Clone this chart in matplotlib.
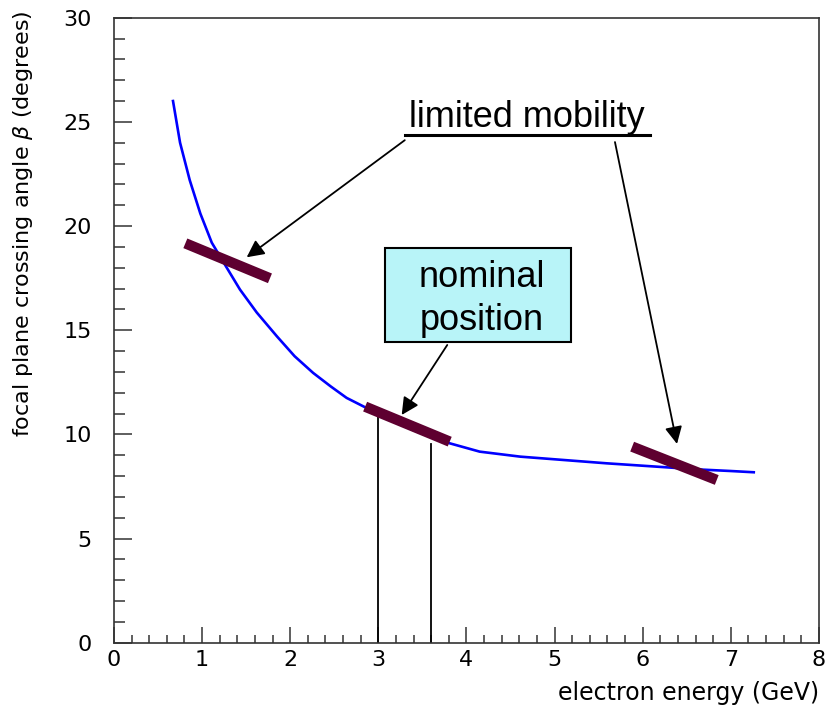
import matplotlib.pyplot as plt
from matplotlib.patches import Rectangle
from matplotlib.ticker import MultipleLocator

# crossing angle curve
energy = [0.67, 0.75, 0.86, 0.98, 1.11, 1.28, 1.43, 1.62, 1.85, 2.05, 2.26, 2.46,
          2.64, 2.85, 3.0, 3.2, 3.4, 3.6, 3.81, 4.15, 4.61, 5.10, 5.59, 6.05,
          6.61, 7.0, 7.26]
angle = [26.0, 24.0, 22.2, 20.6, 19.2, 18.0, 16.95, 15.85, 14.7, 13.75, 12.95, 12.3,
         11.75, 11.3, 11.0, 10.6, 10.2, 9.88, 9.57, 9.17, 8.93, 8.77, 8.61, 8.48,
         8.32, 8.24, 8.18]

# detector positions (start, end) in data units
bars_x = [(0.81, 1.77), (2.85, 3.81), (5.88, 6.84)]
bars_y = [(19.17, 17.49), (11.33, 9.65), (9.41, 7.81)]

# nominal acceptance lines
nominal_x = [3.0, 3.6]
nominal_top = [11.0, 9.55]

plt.rcParams['font.family'] = ['DejaVu Sans']

fig = plt.figure(figsize=(8.27, 7.05), dpi=100)
ax = fig.add_axes([0.1378, 0.0884, 0.8525, 0.8865])

ax.plot(energy, angle, color='#0000ff', lw=1.9, zorder=3)

for (x0, x1), (y0, y1) in zip(bars_x, bars_y):
    ax.plot([x0, x1], [y0, y1], color='#5e0030', lw=7.5, solid_capstyle='butt', zorder=4)

for x, top in zip(nominal_x, nominal_top):
    ax.plot([x, x], [0, top], color='black', lw=1.3, zorder=2)

ax.set_xlim(0, 8)
ax.set_ylim(0, 30)
ax.xaxis.set_major_locator(MultipleLocator(1))
ax.xaxis.set_minor_locator(MultipleLocator(0.2))
ax.yaxis.set_major_locator(MultipleLocator(5))
ax.yaxis.set_minor_locator(MultipleLocator(1))
ax.tick_params(axis='both', which='both', direction='in', color='#333333', width=1.1,
               top=False, right=False, labelsize=16)
ax.tick_params(axis='x', which='major', length=11.5, pad=5)
ax.tick_params(axis='x', which='minor', length=5.8)
ax.tick_params(axis='y', which='major', length=13, pad=16)
ax.tick_params(axis='y', which='minor', length=7.7)
for s in ax.spines.values():
    s.set_color('#333333')
    s.set_linewidth(1.2)

ax.set_xlabel('electron energy (GeV)', fontsize=17, loc='right')
ax.set_ylabel(r'focal plane crossing angle $\beta$ (degrees)', fontsize=16, loc='top')
ax.xaxis.set_label_coords(1.0, -0.062)
ax.yaxis.set_label_coords(-0.112, 1.012)

# annotations
big = dict(fontsize=26, family='Liberation Sans', color='black')
ax.text(4.69, 25.2, 'limited mobility', ha='center', va='center', **big)
ax.plot([3.30, 6.08], [24.37, 24.37], color='black', lw=2.2)
arrow = dict(arrowstyle='-|>', mutation_scale=26, lw=1.3, color='black',
             shrinkA=0, shrinkB=0)
ax.annotate('', xy=(1.506, 18.50), xytext=(3.30, 24.12), arrowprops=arrow)
ax.annotate('', xy=(6.389, 9.54), xytext=(5.685, 24.03), arrowprops=arrow)

ax.add_patch(Rectangle((3.075, 14.45), 2.111, 4.48, facecolor='#b8f4f8',
                       edgecolor='black', lw=1.5, zorder=5))
ax.text(4.17, 16.5, 'nominal\nposition', ha='center', va='center',
        linespacing=1.3, zorder=6, **big)
ax.annotate('', xy=(3.265, 10.93), xytext=(3.782, 14.29), arrowprops=arrow, zorder=6)

fig.savefig('out.png', dpi=100)
